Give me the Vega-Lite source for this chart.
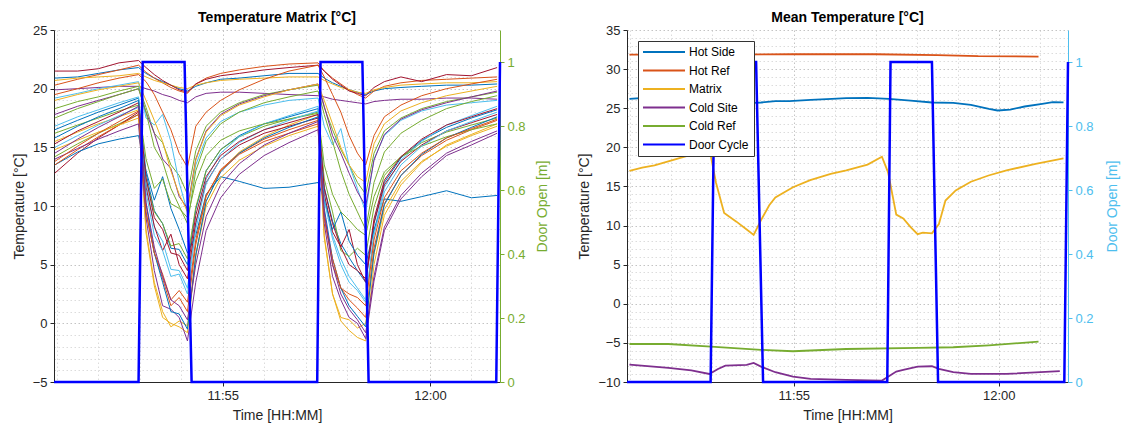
{
"$schema": "https://vega.github.io/schema/vega-lite/v6.json",
"background": "white",
"padding": {"left": 12, "top": 11, "right": 2, "bottom": 5},
"spacing": 27,
"config": {
 "font": "Liberation Sans",
 "view": {"stroke": null},
 "axis": {"labelFontSize": 13, "titleFontSize": 14, "titleFontWeight": "normal", "labelColor": "#262626", "titleColor": "#262626", "domainColor": "#262626", "tickColor": "#262626", "tickSize": 4, "labelPadding": 3, "gridDash": [1.5, 2.5], "gridWidth": 1},
 "title": {"fontSize": 14, "fontWeight": "bold", "color": "#000000", "offset": -1}
},
"resolve": {"scale": {"color": "independent", "x": "independent", "y": "independent"}},
"datasets": {
 "door": [
  {"t":50.93,"d":0,"k":"Door Cycle"},{"t":52.97,"d":0,"k":"Door Cycle"},{"t":53.07,"d":1,"k":"Door Cycle"},{"t":54.08,"d":1,"k":"Door Cycle"},{"t":54.25,"d":0,"k":"Door Cycle"},{"t":57.28,"d":0,"k":"Door Cycle"},{"t":57.36,"d":1,"k":"Door Cycle"},{"t":58.37,"d":1,"k":"Door Cycle"},{"t":58.52,"d":0,"k":"Door Cycle"},{"t":61.6,"d":0,"k":"Door Cycle"},{"t":61.69,"d":1,"k":"Door Cycle"}
 ],
 "mean": [
  {"k":"Hot Side","t":50.99,"v":26.2},{"k":"Hot Side","t":51.59,"v":26.4},{"k":"Hot Side","t":52.2,"v":26.15},{"k":"Hot Side","t":52.98,"v":25.85},{"k":"Hot Side","t":54.02,"v":25.69},{"k":"Hot Side","t":54.2,"v":25.73},{"k":"Hot Side","t":54.55,"v":25.9},{"k":"Hot Side","t":54.89,"v":25.9},{"k":"Hot Side","t":55.41,"v":26.07},{"k":"Hot Side","t":55.93,"v":26.2},{"k":"Hot Side","t":56.28,"v":26.28},{"k":"Hot Side","t":56.8,"v":26.33},{"k":"Hot Side","t":57.32,"v":26.2},{"k":"Hot Side","t":57.85,"v":25.98},{"k":"Hot Side","t":58.37,"v":25.73},{"k":"Hot Side","t":58.89,"v":25.69},{"k":"Hot Side","t":59.32,"v":25.43},{"k":"Hot Side","t":59.76,"v":24.92},{"k":"Hot Side","t":59.97,"v":24.71},{"k":"Hot Side","t":60.28,"v":24.83},{"k":"Hot Side","t":60.63,"v":25.22},{"k":"Hot Side","t":61.06,"v":25.56},{"k":"Hot Side","t":61.32,"v":25.77},{"k":"Hot Side","t":61.58,"v":25.75},
  {"k":"Hot Ref","t":50.99,"v":31.85},{"k":"Hot Ref","t":53.0,"v":31.85},{"k":"Hot Ref","t":55.0,"v":31.9},{"k":"Hot Ref","t":57.0,"v":31.9},{"k":"Hot Ref","t":58.5,"v":31.8},{"k":"Hot Ref","t":59.5,"v":31.65},{"k":"Hot Ref","t":60.97,"v":31.6},
  {"k":"Matrix","t":50.99,"v":17.0},{"k":"Matrix","t":51.3,"v":17.4},{"k":"Matrix","t":51.6,"v":17.7},{"k":"Matrix","t":52.0,"v":18.3},{"k":"Matrix","t":52.4,"v":18.9},{"k":"Matrix","t":52.75,"v":19.3},{"k":"Matrix","t":52.95,"v":19.6},{"k":"Matrix","t":53.1,"v":15.5},{"k":"Matrix","t":53.3,"v":11.6},{"k":"Matrix","t":53.6,"v":10.5},{"k":"Matrix","t":53.85,"v":9.5},{"k":"Matrix","t":54.02,"v":8.8},{"k":"Matrix","t":54.2,"v":10.7},{"k":"Matrix","t":54.4,"v":12.6},{"k":"Matrix","t":54.55,"v":13.6},{"k":"Matrix","t":54.98,"v":14.9},{"k":"Matrix","t":55.4,"v":15.8},{"k":"Matrix","t":55.9,"v":16.6},{"k":"Matrix","t":56.28,"v":17.05},{"k":"Matrix","t":56.8,"v":17.8},{"k":"Matrix","t":57.15,"v":18.8},{"k":"Matrix","t":57.3,"v":16.8},{"k":"Matrix","t":57.5,"v":11.4},{"k":"Matrix","t":57.67,"v":10.9},{"k":"Matrix","t":57.85,"v":9.8},{"k":"Matrix","t":58.02,"v":8.9},{"k":"Matrix","t":58.15,"v":9.1},{"k":"Matrix","t":58.37,"v":9.0},{"k":"Matrix","t":58.54,"v":10.2},{"k":"Matrix","t":58.7,"v":13.2},{"k":"Matrix","t":58.95,"v":14.5},{"k":"Matrix","t":59.32,"v":15.6},{"k":"Matrix","t":59.75,"v":16.4},{"k":"Matrix","t":60.19,"v":17.05},{"k":"Matrix","t":60.9,"v":17.9},{"k":"Matrix","t":61.58,"v":18.6},
  {"k":"Cold Site","t":50.99,"v":-7.78},{"k":"Cold Site","t":51.94,"v":-8.2},{"k":"Cold Site","t":52.5,"v":-8.5},{"k":"Cold Site","t":52.94,"v":-8.97},{"k":"Cold Site","t":53.15,"v":-8.33},{"k":"Cold Site","t":53.33,"v":-7.9},{"k":"Cold Site","t":53.85,"v":-7.82},{"k":"Cold Site","t":54.02,"v":-7.56},{"k":"Cold Site","t":54.2,"v":-8.03},{"k":"Cold Site","t":54.55,"v":-8.75},{"k":"Cold Site","t":54.98,"v":-9.3},{"k":"Cold Site","t":55.41,"v":-9.6},{"k":"Cold Site","t":56.28,"v":-9.73},{"k":"Cold Site","t":57.15,"v":-9.82},{"k":"Cold Site","t":57.28,"v":-9.39},{"k":"Cold Site","t":57.5,"v":-8.67},{"k":"Cold Site","t":57.67,"v":-8.46},{"k":"Cold Site","t":58.02,"v":-8.03},{"k":"Cold Site","t":58.37,"v":-7.99},{"k":"Cold Site","t":58.54,"v":-8.33},{"k":"Cold Site","t":58.89,"v":-8.75},{"k":"Cold Site","t":59.32,"v":-8.97},{"k":"Cold Site","t":60.19,"v":-8.97},{"k":"Cold Site","t":61.49,"v":-8.62},
  {"k":"Cold Ref","t":50.99,"v":-5.14},{"k":"Cold Ref","t":51.94,"v":-5.14},{"k":"Cold Ref","t":52.98,"v":-5.48},{"k":"Cold Ref","t":54.2,"v":-5.9},{"k":"Cold Ref","t":54.98,"v":-6.07},{"k":"Cold Ref","t":56.28,"v":-5.78},{"k":"Cold Ref","t":58.02,"v":-5.65},{"k":"Cold Ref","t":58.89,"v":-5.56},{"k":"Cold Ref","t":59.76,"v":-5.31},{"k":"Cold Ref","t":60.97,"v":-4.85}
 ],
 "matrix": [
{"s":1,"t":50.95,"v":20.9},{"s":1,"t":51.5,"v":21.0},{"s":1,"t":52,"v":21.3},{"s":1,"t":52.5,"v":21.6},{"s":1,"t":52.97,"v":21.8},{"s":1,"t":53.15,"v":21.3},{"s":1,"t":53.35,"v":20.9},{"s":1,"t":53.55,"v":20.6},{"s":1,"t":53.75,"v":20.3},{"s":1,"t":53.95,"v":20.0},{"s":1,"t":54.15,"v":19.8},{"s":1,"t":54.35,"v":20.2},{"s":1,"t":54.6,"v":20.5},{"s":1,"t":54.95,"v":20.8},{"s":1,"t":55.4,"v":20.9},{"s":1,"t":56,"v":21.1},{"s":1,"t":56.6,"v":21.3},{"s":1,"t":57.3,"v":21.3},{"s":1,"t":57.45,"v":20.9},{"s":1,"t":57.65,"v":20.5},{"s":1,"t":57.85,"v":20.2},{"s":1,"t":58.05,"v":19.9},{"s":1,"t":58.25,"v":19.7},{"s":1,"t":58.45,"v":19.5},{"s":1,"t":58.65,"v":19.8},{"s":1,"t":58.9,"v":20.0},{"s":1,"t":59.3,"v":20.1},{"s":1,"t":59.8,"v":20.2},{"s":1,"t":60.4,"v":20.3},{"s":1,"t":61,"v":20.3},{"s":1,"t":61.62,"v":20.4},
{"s":2,"t":50.95,"v":20.3},{"s":2,"t":51.5,"v":20.8},{"s":2,"t":52,"v":21.2},{"s":2,"t":52.5,"v":21.6},{"s":2,"t":52.97,"v":22.0},{"s":2,"t":53.15,"v":21.4},{"s":2,"t":53.35,"v":20.9},{"s":2,"t":53.55,"v":20.5},{"s":2,"t":53.75,"v":20.1},{"s":2,"t":53.95,"v":19.8},{"s":2,"t":54.15,"v":19.6},{"s":2,"t":54.35,"v":20.4},{"s":2,"t":54.6,"v":20.9},{"s":2,"t":54.95,"v":21.3},{"s":2,"t":55.4,"v":21.6},{"s":2,"t":56,"v":21.9},{"s":2,"t":56.6,"v":22.1},{"s":2,"t":57.3,"v":22.2},{"s":2,"t":57.45,"v":21.5},{"s":2,"t":57.65,"v":20.9},{"s":2,"t":57.85,"v":20.4},{"s":2,"t":58.05,"v":19.9},{"s":2,"t":58.25,"v":19.5},{"s":2,"t":58.45,"v":19.2},{"s":2,"t":58.65,"v":19.8},{"s":2,"t":58.9,"v":20.2},{"s":2,"t":59.3,"v":20.5},{"s":2,"t":59.8,"v":20.7},{"s":2,"t":60.4,"v":20.8},{"s":2,"t":61,"v":20.9},{"s":2,"t":61.62,"v":21.0},
{"s":3,"t":50.95,"v":20.7},{"s":3,"t":51.5,"v":20.9},{"s":3,"t":52,"v":21.0},{"s":3,"t":52.5,"v":21.1},{"s":3,"t":52.97,"v":21.3},{"s":3,"t":53.15,"v":21.0},{"s":3,"t":53.35,"v":20.7},{"s":3,"t":53.55,"v":20.5},{"s":3,"t":53.75,"v":20.3},{"s":3,"t":53.95,"v":20.1},{"s":3,"t":54.15,"v":20.0},{"s":3,"t":54.35,"v":20.3},{"s":3,"t":54.6,"v":20.5},{"s":3,"t":54.95,"v":20.7},{"s":3,"t":55.4,"v":20.8},{"s":3,"t":56,"v":20.9},{"s":3,"t":56.6,"v":21.0},{"s":3,"t":57.3,"v":21.0},{"s":3,"t":57.45,"v":20.7},{"s":3,"t":57.65,"v":20.4},{"s":3,"t":57.85,"v":20.1},{"s":3,"t":58.05,"v":19.9},{"s":3,"t":58.25,"v":19.7},{"s":3,"t":58.45,"v":19.6},{"s":3,"t":58.65,"v":19.9},{"s":3,"t":58.9,"v":20.1},{"s":3,"t":59.3,"v":20.3},{"s":3,"t":59.8,"v":20.4},{"s":3,"t":60.4,"v":20.5},{"s":3,"t":61,"v":20.5},{"s":3,"t":61.62,"v":20.6},
{"s":4,"t":50.95,"v":19.9},{"s":4,"t":51.5,"v":20.0},{"s":4,"t":52,"v":20.1},{"s":4,"t":52.5,"v":20.2},{"s":4,"t":52.97,"v":20.2},{"s":4,"t":53.15,"v":20.0},{"s":4,"t":53.35,"v":19.8},{"s":4,"t":53.55,"v":19.5},{"s":4,"t":53.75,"v":19.3},{"s":4,"t":53.95,"v":19.0},{"s":4,"t":54.15,"v":18.8},{"s":4,"t":54.35,"v":19.3},{"s":4,"t":54.6,"v":19.6},{"s":4,"t":54.95,"v":19.7},{"s":4,"t":55.4,"v":19.7},{"s":4,"t":56,"v":19.6},{"s":4,"t":56.6,"v":19.5},{"s":4,"t":57.3,"v":19.4},{"s":4,"t":57.45,"v":19.3},{"s":4,"t":57.65,"v":19.1},{"s":4,"t":57.85,"v":19.0},{"s":4,"t":58.05,"v":18.9},{"s":4,"t":58.25,"v":18.8},{"s":4,"t":58.45,"v":18.7},{"s":4,"t":58.65,"v":18.9},{"s":4,"t":58.9,"v":19.0},{"s":4,"t":59.3,"v":19.1},{"s":4,"t":59.8,"v":19.1},{"s":4,"t":60.4,"v":19.2},{"s":4,"t":61,"v":19.2},{"s":4,"t":61.62,"v":19.1},
{"s":5,"t":50.95,"v":18.3},{"s":5,"t":51.5,"v":18.9},{"s":5,"t":52,"v":19.3},{"s":5,"t":52.5,"v":19.8},{"s":5,"t":52.97,"v":20.2},{"s":5,"t":53.15,"v":18.4},{"s":5,"t":53.35,"v":16.2},{"s":5,"t":53.55,"v":15.4},{"s":5,"t":53.75,"v":13.5},{"s":5,"t":53.95,"v":12.6},{"s":5,"t":54.15,"v":11.0},{"s":5,"t":54.35,"v":14.7},{"s":5,"t":54.6,"v":16.8},{"s":5,"t":54.95,"v":18.0},{"s":5,"t":55.4,"v":18.8},{"s":5,"t":56,"v":19.5},{"s":5,"t":56.6,"v":19.9},{"s":5,"t":57.3,"v":20.3},{"s":5,"t":57.45,"v":18.4},{"s":5,"t":57.65,"v":16.5},{"s":5,"t":57.85,"v":14.8},{"s":5,"t":58.05,"v":13.5},{"s":5,"t":58.25,"v":12.0},{"s":5,"t":58.45,"v":11.0},{"s":5,"t":58.65,"v":14.5},{"s":5,"t":58.9,"v":16.4},{"s":5,"t":59.3,"v":17.5},{"s":5,"t":59.8,"v":18.3},{"s":5,"t":60.4,"v":18.9},{"s":5,"t":61,"v":19.3},{"s":5,"t":61.62,"v":19.7},
{"s":6,"t":50.95,"v":19.2},{"s":6,"t":51.5,"v":19.6},{"s":6,"t":52,"v":20.0},{"s":6,"t":52.5,"v":20.3},{"s":6,"t":52.97,"v":20.6},{"s":6,"t":53.15,"v":17.5},{"s":6,"t":53.35,"v":16.9},{"s":6,"t":53.55,"v":17.8},{"s":6,"t":53.75,"v":15.5},{"s":6,"t":53.95,"v":12.0},{"s":6,"t":54.15,"v":9.5},{"s":6,"t":54.35,"v":13.5},{"s":6,"t":54.6,"v":15.8},{"s":6,"t":54.95,"v":17.2},{"s":6,"t":55.4,"v":18.0},{"s":6,"t":56,"v":18.6},{"s":6,"t":56.6,"v":19.0},{"s":6,"t":57.3,"v":19.2},{"s":6,"t":57.45,"v":16.8},{"s":6,"t":57.65,"v":15.2},{"s":6,"t":57.85,"v":16.6},{"s":6,"t":58.05,"v":13.5},{"s":6,"t":58.25,"v":11.5},{"s":6,"t":58.45,"v":9.5},{"s":6,"t":58.65,"v":14.0},{"s":6,"t":58.9,"v":16.0},{"s":6,"t":59.3,"v":17.3},{"s":6,"t":59.8,"v":18.1},{"s":6,"t":60.4,"v":18.6},{"s":6,"t":61,"v":18.8},{"s":6,"t":61.62,"v":19.0},
{"s":7,"t":50.95,"v":21.5},{"s":7,"t":51.5,"v":21.5},{"s":7,"t":52,"v":21.7},{"s":7,"t":52.5,"v":22.2},{"s":7,"t":52.97,"v":22.4},{"s":7,"t":53.15,"v":21.8},{"s":7,"t":53.35,"v":21.2},{"s":7,"t":53.55,"v":20.7},{"s":7,"t":53.75,"v":20.3},{"s":7,"t":53.95,"v":19.9},{"s":7,"t":54.15,"v":19.7},{"s":7,"t":54.35,"v":20.4},{"s":7,"t":54.6,"v":20.8},{"s":7,"t":54.95,"v":21.1},{"s":7,"t":55.4,"v":21.3},{"s":7,"t":56,"v":21.6},{"s":7,"t":56.6,"v":21.8},{"s":7,"t":57.3,"v":22.0},{"s":7,"t":57.45,"v":21.5},{"s":7,"t":57.65,"v":20.8},{"s":7,"t":57.85,"v":20.3},{"s":7,"t":58.05,"v":19.8},{"s":7,"t":58.25,"v":19.6},{"s":7,"t":58.45,"v":19.4},{"s":7,"t":58.65,"v":20.1},{"s":7,"t":58.9,"v":20.6},{"s":7,"t":59.3,"v":21.0},{"s":7,"t":59.8,"v":20.6},{"s":7,"t":60.4,"v":21.2},{"s":7,"t":61,"v":21.1},{"s":7,"t":61.62,"v":21.8},
{"s":8,"t":50.95,"v":16.5},{"s":8,"t":51.5,"v":17.3},{"s":8,"t":52,"v":18.0},{"s":8,"t":52.5,"v":18.6},{"s":8,"t":52.97,"v":19.2},{"s":8,"t":53.15,"v":12.8},{"s":8,"t":53.35,"v":9.6},{"s":8,"t":53.55,"v":8.5},{"s":8,"t":53.75,"v":6.4},{"s":8,"t":53.95,"v":6.3},{"s":8,"t":54.15,"v":5.0},{"s":8,"t":54.35,"v":9.7},{"s":8,"t":54.6,"v":13.0},{"s":8,"t":54.95,"v":14.8},{"s":8,"t":55.4,"v":16.0},{"s":8,"t":56,"v":17.0},{"s":8,"t":56.6,"v":17.6},{"s":8,"t":57.3,"v":18.3},{"s":8,"t":57.45,"v":11.6},{"s":8,"t":57.65,"v":8.7},{"s":8,"t":57.85,"v":6.8},{"s":8,"t":58.05,"v":5.6},{"s":8,"t":58.25,"v":4.5},{"s":8,"t":58.45,"v":3.5},{"s":8,"t":58.65,"v":8.6},{"s":8,"t":58.9,"v":12.0},{"s":8,"t":59.3,"v":14.1},{"s":8,"t":59.8,"v":15.6},{"s":8,"t":60.4,"v":16.7},{"s":8,"t":61,"v":17.5},{"s":8,"t":61.62,"v":18.2},
{"s":9,"t":50.95,"v":19.5},{"s":9,"t":51.5,"v":20.0},{"s":9,"t":52,"v":20.5},{"s":9,"t":52.5,"v":20.9},{"s":9,"t":52.97,"v":21.2},{"s":9,"t":53.15,"v":20.6},{"s":9,"t":53.35,"v":19.5},{"s":9,"t":53.55,"v":18.0},{"s":9,"t":53.75,"v":16.5},{"s":9,"t":53.95,"v":14.5},{"s":9,"t":54.15,"v":13.3},{"s":9,"t":54.35,"v":16.8},{"s":9,"t":54.6,"v":18.0},{"s":9,"t":54.95,"v":19.0},{"s":9,"t":55.4,"v":19.9},{"s":9,"t":56,"v":20.8},{"s":9,"t":56.6,"v":21.5},{"s":9,"t":57.3,"v":22.0},{"s":9,"t":57.45,"v":21.0},{"s":9,"t":57.65,"v":19.5},{"s":9,"t":57.85,"v":18.0},{"s":9,"t":58.05,"v":16.0},{"s":9,"t":58.25,"v":14.5},{"s":9,"t":58.45,"v":13.5},{"s":9,"t":58.65,"v":16.0},{"s":9,"t":58.9,"v":17.6},{"s":9,"t":59.3,"v":18.6},{"s":9,"t":59.8,"v":19.4},{"s":9,"t":60.4,"v":20.0},{"s":9,"t":61,"v":20.4},{"s":9,"t":61.62,"v":20.8},
{"s":10,"t":50.95,"v":15.5},{"s":10,"t":51.5,"v":16.3},{"s":10,"t":52,"v":17.0},{"s":10,"t":52.5,"v":17.6},{"s":10,"t":52.97,"v":18.2},{"s":10,"t":53.15,"v":7.7},{"s":10,"t":53.35,"v":3.2},{"s":10,"t":53.55,"v":0.5},{"s":10,"t":53.75,"v":0.0},{"s":10,"t":53.95,"v":-0.3},{"s":10,"t":54.15,"v":-0.8},{"s":10,"t":54.35,"v":5.7},{"s":10,"t":54.6,"v":10.4},{"s":10,"t":54.95,"v":13.0},{"s":10,"t":55.4,"v":14.6},{"s":10,"t":56,"v":15.9},{"s":10,"t":56.6,"v":16.9},{"s":10,"t":57.3,"v":17.8},{"s":10,"t":57.45,"v":7.3},{"s":10,"t":57.65,"v":2.5},{"s":10,"t":57.85,"v":0.2},{"s":10,"t":58.05,"v":-0.6},{"s":10,"t":58.25,"v":-1.2},{"s":10,"t":58.45,"v":-1.5},{"s":10,"t":58.65,"v":5.0},{"s":10,"t":58.9,"v":9.2},{"s":10,"t":59.3,"v":11.8},{"s":10,"t":59.8,"v":13.7},{"s":10,"t":60.4,"v":15.2},{"s":10,"t":61,"v":16.1},{"s":10,"t":61.62,"v":17.0},
{"s":11,"t":50.95,"v":17.8},{"s":11,"t":51.5,"v":18.5},{"s":11,"t":52,"v":19.0},{"s":11,"t":52.5,"v":19.5},{"s":11,"t":52.97,"v":20.0},{"s":11,"t":53.15,"v":18.0},{"s":11,"t":53.35,"v":16.2},{"s":11,"t":53.55,"v":14.0},{"s":11,"t":53.75,"v":13.2},{"s":11,"t":53.95,"v":10.8},{"s":11,"t":54.15,"v":9.8},{"s":11,"t":54.35,"v":14.0},{"s":11,"t":54.6,"v":16.4},{"s":11,"t":54.95,"v":17.8},{"s":11,"t":55.4,"v":18.7},{"s":11,"t":56,"v":19.4},{"s":11,"t":56.6,"v":19.9},{"s":11,"t":57.3,"v":20.4},{"s":11,"t":57.45,"v":18.5},{"s":11,"t":57.65,"v":16.0},{"s":11,"t":57.85,"v":14.5},{"s":11,"t":58.05,"v":12.8},{"s":11,"t":58.25,"v":11.2},{"s":11,"t":58.45,"v":10.0},{"s":11,"t":58.65,"v":13.9},{"s":11,"t":58.9,"v":16.1},{"s":11,"t":59.3,"v":17.4},{"s":11,"t":59.8,"v":18.2},{"s":11,"t":60.4,"v":18.8},{"s":11,"t":61,"v":19.3},{"s":11,"t":61.62,"v":19.8},
{"s":12,"t":50.95,"v":14.2},{"s":12,"t":51.5,"v":15.3},{"s":12,"t":52,"v":16.2},{"s":12,"t":52.5,"v":17.0},{"s":12,"t":52.97,"v":17.8},{"s":12,"t":53.15,"v":12.3},{"s":12,"t":53.35,"v":9.5},{"s":12,"t":53.55,"v":8.5},{"s":12,"t":53.75,"v":6.6},{"s":12,"t":53.95,"v":6.8},{"s":12,"t":54.15,"v":5.5},{"s":12,"t":54.35,"v":9.9},{"s":12,"t":54.6,"v":13.0},{"s":12,"t":54.95,"v":14.8},{"s":12,"t":55.4,"v":15.9},{"s":12,"t":56,"v":16.8},{"s":12,"t":56.6,"v":17.4},{"s":12,"t":57.3,"v":18.0},{"s":12,"t":57.45,"v":12.3},{"s":12,"t":57.65,"v":9.5},{"s":12,"t":57.85,"v":6.2},{"s":12,"t":58.05,"v":5.7},{"s":12,"t":58.25,"v":6.4},{"s":12,"t":58.45,"v":5.8},{"s":12,"t":58.65,"v":9.9},{"s":12,"t":58.9,"v":12.6},{"s":12,"t":59.3,"v":14.2},{"s":12,"t":59.8,"v":15.4},{"s":12,"t":60.4,"v":16.3},{"s":12,"t":61,"v":16.9},{"s":12,"t":61.62,"v":17.5},
{"s":13,"t":50.95,"v":16.8},{"s":13,"t":51.5,"v":17.6},{"s":13,"t":52,"v":18.2},{"s":13,"t":52.5,"v":18.8},{"s":13,"t":52.97,"v":19.3},{"s":13,"t":53.15,"v":12.0},{"s":13,"t":53.35,"v":8.2},{"s":13,"t":53.55,"v":7.0},{"s":13,"t":53.75,"v":4.6},{"s":13,"t":53.95,"v":4.5},{"s":13,"t":54.15,"v":3.0},{"s":13,"t":54.35,"v":8.4},{"s":13,"t":54.6,"v":12.3},{"s":13,"t":54.95,"v":14.5},{"s":13,"t":55.4,"v":15.9},{"s":13,"t":56,"v":17.0},{"s":13,"t":56.6,"v":17.7},{"s":13,"t":57.3,"v":18.5},{"s":13,"t":57.45,"v":11.0},{"s":13,"t":57.65,"v":7.5},{"s":13,"t":57.85,"v":5.5},{"s":13,"t":58.05,"v":4.0},{"s":13,"t":58.25,"v":3.0},{"s":13,"t":58.45,"v":2.0},{"s":13,"t":58.65,"v":7.8},{"s":13,"t":58.9,"v":11.6},{"s":13,"t":59.3,"v":13.9},{"s":13,"t":59.8,"v":15.5},{"s":13,"t":60.4,"v":16.9},{"s":13,"t":61,"v":17.7},{"s":13,"t":61.62,"v":18.5},
{"s":14,"t":50.95,"v":12.8},{"s":14,"t":51.5,"v":14.5},{"s":14,"t":52,"v":15.8},{"s":14,"t":52.5,"v":16.9},{"s":14,"t":52.97,"v":18.0},{"s":14,"t":53.15,"v":11.6},{"s":14,"t":53.35,"v":8.3},{"s":14,"t":53.55,"v":6.2},{"s":14,"t":53.75,"v":7.6},{"s":14,"t":53.95,"v":5.0},{"s":14,"t":54.15,"v":3.8},{"s":14,"t":54.35,"v":8.6},{"s":14,"t":54.6,"v":12.0},{"s":14,"t":54.95,"v":14.0},{"s":14,"t":55.4,"v":15.2},{"s":14,"t":56,"v":16.2},{"s":14,"t":56.6,"v":16.8},{"s":14,"t":57.3,"v":17.5},{"s":14,"t":57.45,"v":11.0},{"s":14,"t":57.65,"v":7.8},{"s":14,"t":57.85,"v":6.5},{"s":14,"t":58.05,"v":8.0},{"s":14,"t":58.25,"v":5.0},{"s":14,"t":58.45,"v":3.5},{"s":14,"t":58.65,"v":8.5},{"s":14,"t":58.9,"v":11.8},{"s":14,"t":59.3,"v":13.8},{"s":14,"t":59.8,"v":15.2},{"s":14,"t":60.4,"v":16.4},{"s":14,"t":61,"v":17.1},{"s":14,"t":61.62,"v":17.8},
{"s":15,"t":50.95,"v":13.5},{"s":15,"t":51.5,"v":14.6},{"s":15,"t":52,"v":15.3},{"s":15,"t":52.5,"v":15.7},{"s":15,"t":52.97,"v":16.0},{"s":15,"t":53.15,"v":13.0},{"s":15,"t":53.35,"v":10.5},{"s":15,"t":53.55,"v":12.5},{"s":15,"t":53.75,"v":9.8},{"s":15,"t":53.95,"v":8.0},{"s":15,"t":54.15,"v":6.0},{"s":15,"t":54.35,"v":7.5},{"s":15,"t":54.6,"v":11.0},{"s":15,"t":54.95,"v":12.5},{"s":15,"t":55.4,"v":12.1},{"s":15,"t":56,"v":11.5},{"s":15,"t":56.6,"v":11.6},{"s":15,"t":57.3,"v":12.0},{"s":15,"t":57.45,"v":10.5},{"s":15,"t":57.65,"v":8.0},{"s":15,"t":57.85,"v":9.5},{"s":15,"t":58.05,"v":7.0},{"s":15,"t":58.25,"v":5.8},{"s":15,"t":58.45,"v":5.0},{"s":15,"t":58.65,"v":8.0},{"s":15,"t":58.9,"v":10.6},{"s":15,"t":59.3,"v":10.4},{"s":15,"t":59.8,"v":10.8},{"s":15,"t":60.4,"v":11.3},{"s":15,"t":61,"v":10.7},{"s":15,"t":61.62,"v":10.9},
{"s":16,"t":50.95,"v":13.5},{"s":16,"t":51.5,"v":14.8},{"s":16,"t":52,"v":15.9},{"s":16,"t":52.5,"v":16.9},{"s":16,"t":52.97,"v":17.8},{"s":16,"t":53.15,"v":9.4},{"s":16,"t":53.35,"v":6.0},{"s":16,"t":53.55,"v":3.8},{"s":16,"t":53.75,"v":1.5},{"s":16,"t":53.95,"v":2.2},{"s":16,"t":54.15,"v":1.0},{"s":16,"t":54.35,"v":6.7},{"s":16,"t":54.6,"v":10.8},{"s":16,"t":54.95,"v":13.1},{"s":16,"t":55.4,"v":14.5},{"s":16,"t":56,"v":15.7},{"s":16,"t":56.6,"v":16.5},{"s":16,"t":57.3,"v":17.3},{"s":16,"t":57.45,"v":9.0},{"s":16,"t":57.65,"v":5.0},{"s":16,"t":57.85,"v":3.0},{"s":16,"t":58.05,"v":2.0},{"s":16,"t":58.25,"v":1.3},{"s":16,"t":58.45,"v":0.5},{"s":16,"t":58.65,"v":6.4},{"s":16,"t":58.9,"v":10.2},{"s":16,"t":59.3,"v":12.6},{"s":16,"t":59.8,"v":14.3},{"s":16,"t":60.4,"v":15.6},{"s":16,"t":61,"v":16.5},{"s":16,"t":61.62,"v":17.3},
{"s":17,"t":50.95,"v":14.8},{"s":17,"t":51.5,"v":15.6},{"s":17,"t":52,"v":16.3},{"s":17,"t":52.5,"v":16.9},{"s":17,"t":52.97,"v":17.5},{"s":17,"t":53.15,"v":8.0},{"s":17,"t":53.35,"v":3.5},{"s":17,"t":53.55,"v":1.0},{"s":17,"t":53.75,"v":-0.3},{"s":17,"t":53.95,"v":0.2},{"s":17,"t":54.15,"v":-0.2},{"s":17,"t":54.35,"v":5.8},{"s":17,"t":54.6,"v":10.0},{"s":17,"t":54.95,"v":12.4},{"s":17,"t":55.4,"v":13.9},{"s":17,"t":56,"v":15.1},{"s":17,"t":56.6,"v":16.0},{"s":17,"t":57.3,"v":16.8},{"s":17,"t":57.45,"v":7.5},{"s":17,"t":57.65,"v":2.5},{"s":17,"t":57.85,"v":0.5},{"s":17,"t":58.05,"v":0.3},{"s":17,"t":58.25,"v":-0.4},{"s":17,"t":58.45,"v":0.0},{"s":17,"t":58.65,"v":5.9},{"s":17,"t":58.9,"v":9.7},{"s":17,"t":59.3,"v":12.1},{"s":17,"t":59.8,"v":13.8},{"s":17,"t":60.4,"v":15.1},{"s":17,"t":61,"v":16.0},{"s":17,"t":61.62,"v":16.8},
{"s":18,"t":50.95,"v":14.0},{"s":18,"t":51.5,"v":14.9},{"s":18,"t":52,"v":15.7},{"s":18,"t":52.5,"v":16.4},{"s":18,"t":52.97,"v":17.0},{"s":18,"t":53.15,"v":9.0},{"s":18,"t":53.35,"v":4.5},{"s":18,"t":53.55,"v":1.5},{"s":18,"t":53.75,"v":1.2},{"s":18,"t":53.95,"v":0.5},{"s":18,"t":54.15,"v":-1.5},{"s":18,"t":54.35,"v":3.5},{"s":18,"t":54.6,"v":7.9},{"s":18,"t":54.95,"v":10.7},{"s":18,"t":55.4,"v":12.7},{"s":18,"t":56,"v":14.3},{"s":18,"t":56.6,"v":15.4},{"s":18,"t":57.3,"v":16.5},{"s":18,"t":57.45,"v":8.5},{"s":18,"t":57.65,"v":4.0},{"s":18,"t":57.85,"v":2.0},{"s":18,"t":58.05,"v":0.5},{"s":18,"t":58.25,"v":0.0},{"s":18,"t":58.45,"v":-1.3},{"s":18,"t":58.65,"v":3.6},{"s":18,"t":58.9,"v":7.9},{"s":18,"t":59.3,"v":10.6},{"s":18,"t":59.8,"v":12.5},{"s":18,"t":60.4,"v":14.3},{"s":18,"t":61,"v":15.2},{"s":18,"t":61.62,"v":16.2},
{"s":19,"t":50.95,"v":16.2},{"s":19,"t":51.5,"v":16.9},{"s":19,"t":52,"v":17.5},{"s":19,"t":52.5,"v":18.1},{"s":19,"t":52.97,"v":18.6},{"s":19,"t":53.15,"v":14.0},{"s":19,"t":53.35,"v":11.5},{"s":19,"t":53.55,"v":12.3},{"s":19,"t":53.75,"v":10.2},{"s":19,"t":53.95,"v":9.8},{"s":19,"t":54.15,"v":9.0},{"s":19,"t":54.35,"v":12.1},{"s":19,"t":54.6,"v":14.3},{"s":19,"t":54.95,"v":15.6},{"s":19,"t":55.4,"v":16.4},{"s":19,"t":56,"v":17.0},{"s":19,"t":56.6,"v":17.4},{"s":19,"t":57.3,"v":17.9},{"s":19,"t":57.45,"v":13.5},{"s":19,"t":57.65,"v":11.0},{"s":19,"t":57.85,"v":9.5},{"s":19,"t":58.05,"v":8.8},{"s":19,"t":58.25,"v":8.0},{"s":19,"t":58.45,"v":7.5},{"s":19,"t":58.65,"v":10.8},{"s":19,"t":58.9,"v":12.9},{"s":19,"t":59.3,"v":14.2},{"s":19,"t":59.8,"v":15.1},{"s":19,"t":60.4,"v":15.9},{"s":19,"t":61,"v":16.5},{"s":19,"t":61.62,"v":17.0},
{"s":20,"t":50.95,"v":15.0},{"s":20,"t":51.5,"v":16.0},{"s":20,"t":52,"v":16.9},{"s":20,"t":52.5,"v":17.7},{"s":20,"t":52.97,"v":18.4},{"s":20,"t":53.15,"v":11.2},{"s":20,"t":53.35,"v":7.5},{"s":20,"t":53.55,"v":6.2},{"s":20,"t":53.75,"v":4.0},{"s":20,"t":53.95,"v":4.2},{"s":20,"t":54.15,"v":2.5},{"s":20,"t":54.35,"v":8.0},{"s":20,"t":54.6,"v":11.9},{"s":20,"t":54.95,"v":14.0},{"s":20,"t":55.4,"v":15.4},{"s":20,"t":56,"v":16.5},{"s":20,"t":56.6,"v":17.3},{"s":20,"t":57.3,"v":18.1},{"s":20,"t":57.45,"v":10.5},{"s":20,"t":57.65,"v":7.2},{"s":20,"t":57.85,"v":5.0},{"s":20,"t":58.05,"v":3.5},{"s":20,"t":58.25,"v":2.8},{"s":20,"t":58.45,"v":1.8},{"s":20,"t":58.65,"v":7.5},{"s":20,"t":58.9,"v":11.2},{"s":20,"t":59.3,"v":13.5},{"s":20,"t":59.8,"v":15.1},{"s":20,"t":60.4,"v":16.4},{"s":20,"t":61,"v":17.2},{"s":20,"t":61.62,"v":18.0},
{"s":21,"t":50.95,"v":15.3},{"s":21,"t":51.5,"v":16.4},{"s":21,"t":52,"v":17.2},{"s":21,"t":52.5,"v":18.0},{"s":21,"t":52.97,"v":18.8},{"s":21,"t":53.15,"v":12.4},{"s":21,"t":53.35,"v":9.0},{"s":21,"t":53.55,"v":8.0},{"s":21,"t":53.75,"v":6.0},{"s":21,"t":53.95,"v":5.8},{"s":21,"t":54.15,"v":4.5},{"s":21,"t":54.35,"v":9.2},{"s":21,"t":54.6,"v":12.5},{"s":21,"t":54.95,"v":14.3},{"s":21,"t":55.4,"v":15.5},{"s":21,"t":56,"v":16.5},{"s":21,"t":56.6,"v":17.1},{"s":21,"t":57.3,"v":17.8},{"s":21,"t":57.45,"v":11.5},{"s":21,"t":57.65,"v":8.5},{"s":21,"t":57.85,"v":6.5},{"s":21,"t":58.05,"v":5.0},{"s":21,"t":58.25,"v":4.5},{"s":21,"t":58.45,"v":3.8},{"s":21,"t":58.65,"v":8.9},{"s":21,"t":58.9,"v":12.2},{"s":21,"t":59.3,"v":14.2},{"s":21,"t":59.8,"v":15.7},{"s":21,"t":60.4,"v":16.9},{"s":21,"t":61,"v":17.6},{"s":21,"t":61.62,"v":18.3},
{"s":22,"t":50.95,"v":15.8},{"s":22,"t":51.5,"v":16.8},{"s":22,"t":52,"v":17.6},{"s":22,"t":52.5,"v":18.3},{"s":22,"t":52.97,"v":19.0},{"s":22,"t":53.15,"v":10.2},{"s":22,"t":53.35,"v":6.0},{"s":22,"t":53.55,"v":3.5},{"s":22,"t":53.75,"v":1.0},{"s":22,"t":53.95,"v":0.8},{"s":22,"t":54.15,"v":-0.5},{"s":22,"t":54.35,"v":5.8},{"s":22,"t":54.6,"v":10.4},{"s":22,"t":54.95,"v":12.9},{"s":22,"t":55.4,"v":14.5},{"s":22,"t":56,"v":15.8},{"s":22,"t":56.6,"v":16.7},{"s":22,"t":57.3,"v":17.6},{"s":22,"t":57.45,"v":9.8},{"s":22,"t":57.65,"v":5.5},{"s":22,"t":57.85,"v":3.0},{"s":22,"t":58.05,"v":1.5},{"s":22,"t":58.25,"v":0.6},{"s":22,"t":58.45,"v":-0.3},{"s":22,"t":58.65,"v":6.0},{"s":22,"t":58.9,"v":10.1},{"s":22,"t":59.3,"v":12.6},{"s":22,"t":59.8,"v":14.4},{"s":22,"t":60.4,"v":15.8},{"s":22,"t":61,"v":16.7},{"s":22,"t":61.62,"v":17.6},
{"s":23,"t":50.95,"v":13.8},{"s":23,"t":51.5,"v":15.1},{"s":23,"t":52,"v":16.2},{"s":23,"t":52.5,"v":17.2},{"s":23,"t":52.97,"v":18.1},{"s":23,"t":53.15,"v":9.5},{"s":23,"t":53.35,"v":6.0},{"s":23,"t":53.55,"v":4.2},{"s":23,"t":53.75,"v":2.0},{"s":23,"t":53.95,"v":2.8},{"s":23,"t":54.15,"v":1.8},{"s":23,"t":54.35,"v":7.1},{"s":23,"t":54.6,"v":10.9},{"s":23,"t":54.95,"v":13.0},{"s":23,"t":55.4,"v":14.4},{"s":23,"t":56,"v":15.5},{"s":23,"t":56.6,"v":16.2},{"s":23,"t":57.3,"v":17.0},{"s":23,"t":57.45,"v":9.0},{"s":23,"t":57.65,"v":5.5},{"s":23,"t":57.85,"v":3.0},{"s":23,"t":58.05,"v":2.5},{"s":23,"t":58.25,"v":2.2},{"s":23,"t":58.45,"v":1.5},{"s":23,"t":58.65,"v":7.1},{"s":23,"t":58.9,"v":10.7},{"s":23,"t":59.3,"v":13.0},{"s":23,"t":59.8,"v":14.5},{"s":23,"t":60.4,"v":15.8},{"s":23,"t":61,"v":16.6},{"s":23,"t":61.62,"v":17.4},
{"s":24,"t":50.95,"v":19.0},{"s":24,"t":51.5,"v":19.5},{"s":24,"t":52,"v":19.9},{"s":24,"t":52.5,"v":20.2},{"s":24,"t":52.97,"v":20.5},{"s":24,"t":53.15,"v":19.0},{"s":24,"t":53.35,"v":17.3},{"s":24,"t":53.55,"v":15.5},{"s":24,"t":53.75,"v":13.0},{"s":24,"t":53.95,"v":11.0},{"s":24,"t":54.15,"v":9.5},{"s":24,"t":54.35,"v":13.9},{"s":24,"t":54.6,"v":16.3},{"s":24,"t":54.95,"v":17.7},{"s":24,"t":55.4,"v":18.6},{"s":24,"t":56,"v":19.3},{"s":24,"t":56.6,"v":19.9},{"s":24,"t":57.3,"v":20.4},{"s":24,"t":57.45,"v":19.0},{"s":24,"t":57.65,"v":17.0},{"s":24,"t":57.85,"v":15.0},{"s":24,"t":58.05,"v":13.5},{"s":24,"t":58.25,"v":12.5},{"s":24,"t":58.45,"v":12.0},{"s":24,"t":58.65,"v":15.3},{"s":24,"t":58.9,"v":17.0},{"s":24,"t":59.3,"v":18.1},{"s":24,"t":59.8,"v":18.8},{"s":24,"t":60.4,"v":19.4},{"s":24,"t":61,"v":19.8},{"s":24,"t":61.62,"v":20.2},
{"s":25,"t":50.95,"v":14.5},{"s":25,"t":51.5,"v":15.7},{"s":25,"t":52,"v":16.7},{"s":25,"t":52.5,"v":17.6},{"s":25,"t":52.97,"v":18.5},{"s":25,"t":53.15,"v":10.3},{"s":25,"t":53.35,"v":6.5},{"s":25,"t":53.55,"v":4.0},{"s":25,"t":53.75,"v":2.0},{"s":25,"t":53.95,"v":1.5},{"s":25,"t":54.15,"v":0.3},{"s":25,"t":54.35,"v":5.0},{"s":25,"t":54.6,"v":9.1},{"s":25,"t":54.95,"v":11.8},{"s":25,"t":55.4,"v":13.6},{"s":25,"t":56,"v":15.2},{"s":25,"t":56.6,"v":16.2},{"s":25,"t":57.3,"v":17.2},{"s":25,"t":57.45,"v":9.5},{"s":25,"t":57.65,"v":5.0},{"s":25,"t":57.85,"v":2.5},{"s":25,"t":58.05,"v":1.2},{"s":25,"t":58.25,"v":0.3},{"s":25,"t":58.45,"v":-0.8},{"s":25,"t":58.65,"v":4.0},{"s":25,"t":58.9,"v":8.2},{"s":25,"t":59.3,"v":10.9},{"s":25,"t":59.8,"v":12.8},{"s":25,"t":60.4,"v":14.5},{"s":25,"t":61,"v":15.5},{"s":25,"t":61.62,"v":16.4},
{"s":26,"t":50.95,"v":17.5},{"s":26,"t":51.5,"v":18.3},{"s":26,"t":52,"v":18.9},{"s":26,"t":52.5,"v":19.5},{"s":26,"t":52.97,"v":20.0},{"s":26,"t":53.15,"v":18.0},{"s":26,"t":53.35,"v":15.0},{"s":26,"t":53.55,"v":13.8},{"s":26,"t":53.75,"v":11.5},{"s":26,"t":53.95,"v":10.0},{"s":26,"t":54.15,"v":8.5},{"s":26,"t":54.35,"v":13.0},{"s":26,"t":54.6,"v":15.5},{"s":26,"t":54.95,"v":17.0},{"s":26,"t":55.4,"v":18.0},{"s":26,"t":56,"v":18.8},{"s":26,"t":56.6,"v":19.3},{"s":26,"t":57.3,"v":19.8},{"s":26,"t":57.45,"v":17.8},{"s":26,"t":57.65,"v":15.5},{"s":26,"t":57.85,"v":13.0},{"s":26,"t":58.05,"v":11.0},{"s":26,"t":58.25,"v":9.5},{"s":26,"t":58.45,"v":8.0},{"s":26,"t":58.65,"v":12.0},{"s":26,"t":58.9,"v":14.6},{"s":26,"t":59.3,"v":16.2},{"s":26,"t":59.8,"v":17.3},{"s":26,"t":60.4,"v":18.3},{"s":26,"t":61,"v":18.9},{"s":26,"t":61.62,"v":19.4}
 ]
},
"hconcat": [
 {
  "width": 446, "height": 352,
  "title": {"text": "Temperature Matrix [°C]"},
  "layer": [
   {
    "data": {"name": "matrix"},
    "mark": {"type": "line", "strokeWidth": 1, "clip": true},
    "encoding": {
     "x": {"field": "t", "type": "quantitative", "scale": {"domain": [50.93, 61.69], "nice": false, "zero": false},
       "axis": {"values": [51,52,53,54,55,56,57,58,59,60,61], "labelExpr": "datum.value === 55 ? '11:55' : (datum.value === 60 ? '12:00' : '')", "title": "Time [HH:MM]", "titlePadding": 6,
         "gridColor": {"condition": {"test": "datum.value === 55 || datum.value === 60", "value": "#c4c4c4"}, "value": "#dcdcdc"},
         "tickOpacity": {"condition": {"test": "datum.value === 55 || datum.value === 60", "value": 1}, "value": 0}}},
     "y": {"field": "v", "type": "quantitative", "scale": {"domain": [-5, 25], "nice": false, "zero": false},
       "axis": {"values": [-5,-4,-3,-2,-1,0,1,2,3,4,5,6,7,8,9,10,11,12,13,14,15,16,17,18,19,20,21,22,23,24,25], "labelExpr": "datum.value % 5 === 0 ? datum.label : ''", "title": "Temperature [°C]", "titlePadding": 6,
         "gridColor": {"condition": {"test": "datum.value % 5 === 0", "value": "#c4c4c4"}, "value": "#dcdcdc"},
         "tickOpacity": {"condition": {"test": "datum.value % 5 === 0", "value": 1}, "value": 0}}},
     "color": {"field": "s", "type": "nominal", "legend": null,
       "scale": {"domain": [1,2,3,4,5,6,7,8,9,10,11,12,13,14,15,16,17,18,19,20,21,22,23,24,25,26],
         "range": ["#0072BD","#D95319","#EDB120","#7E2F8E","#77AC30","#4DBEEE","#A2142F","#0072BD","#D95319","#EDB120","#7E2F8E","#77AC30","#4DBEEE","#A2142F","#0072BD","#D95319","#EDB120","#7E2F8E","#77AC30","#4DBEEE","#A2142F","#0072BD","#D95319","#EDB120","#7E2F8E","#77AC30"]}}
    }
   },
   {
    "data": {"name": "door"},
    "mark": {"type": "line", "strokeWidth": 2.5, "color": "#0000FF"},
    "encoding": {
     "x": {"field": "t", "type": "quantitative"},
     "y": {"field": "d", "type": "quantitative", "scale": {"domain": [0, 1.1], "nice": false, "zero": false},
       "axis": {"orient": "right", "values": [0,0.2,0.4,0.6,0.8,1], "format": "~g", "grid": false, "title": "Door Open [m]", "titleAngle": 270, "titleBaseline": "top", "titlePadding": 10,
         "labelColor": "#77AC30", "titleColor": "#77AC30", "domainColor": "#77AC30", "tickColor": "#77AC30"}}
    }
   }
  ],
  "resolve": {"scale": {"y": "independent"}}
 },
 {
  "width": 441, "height": 352,
  "title": {"text": "Mean Temperature [°C]"},
  "layer": [
   {
    "data": {"name": "mean"},
    "mark": {"type": "line", "strokeWidth": 1.8},
    "encoding": {
     "x": {"field": "t", "type": "quantitative", "scale": {"domain": [50.93, 61.69], "nice": false, "zero": false},
       "axis": {"values": [51,52,53,54,55,56,57,58,59,60,61], "labelExpr": "datum.value === 55 ? '11:55' : (datum.value === 60 ? '12:00' : '')", "title": "Time [HH:MM]", "titlePadding": 6,
         "gridColor": {"condition": {"test": "datum.value === 55 || datum.value === 60", "value": "#c4c4c4"}, "value": "#dcdcdc"},
         "tickOpacity": {"condition": {"test": "datum.value === 55 || datum.value === 60", "value": 1}, "value": 0}}},
     "y": {"field": "v", "type": "quantitative", "scale": {"domain": [-10, 35], "nice": false, "zero": false},
       "axis": {"values": [-10,-9,-8,-7,-6,-5,-4,-3,-2,-1,0,1,2,3,4,5,6,7,8,9,10,11,12,13,14,15,16,17,18,19,20,21,22,23,24,25,26,27,28,29,30,31,32,33,34,35], "labelExpr": "datum.value % 5 === 0 ? datum.label : ''", "title": "Temperature [°C]", "titlePadding": 6,
         "gridColor": {"condition": {"test": "datum.value % 5 === 0", "value": "#c4c4c4"}, "value": "#dcdcdc"},
         "tickOpacity": {"condition": {"test": "datum.value % 5 === 0", "value": 1}, "value": 0}}},
     "color": {"field": "k", "type": "nominal",
       "scale": {"domain": ["Hot Side","Hot Ref","Matrix","Cold Site","Cold Ref","Door Cycle"], "range": ["#0072BD","#D95319","#EDB120","#7E2F8E","#77AC30","#0000FF"]},
       "legend": {"orient": "top-left", "title": null, "offset": 11, "padding": 5, "fillColor": "white", "strokeColor": "#333333",
         "symbolType": "M-4.2,0H4.2", "symbolSize": 100, "symbolStrokeWidth": 2, "symbolOffset": 15, "labelOffset": 19,
         "labelFontSize": 12, "labelColor": "#000000", "rowPadding": 6.5}}
    }
   },
   {
    "data": {"name": "door"},
    "mark": {"type": "line", "strokeWidth": 2.5},
    "encoding": {
     "x": {"field": "t", "type": "quantitative"},
     "y": {"field": "d", "type": "quantitative", "scale": {"domain": [0, 1.1], "nice": false, "zero": false},
       "axis": {"orient": "right", "values": [0,0.2,0.4,0.6,0.8,1], "format": "~g", "grid": false, "title": "Door Open [m]", "titleAngle": 270, "titleBaseline": "top", "titlePadding": 12,
         "labelColor": "#4DBEEE", "titleColor": "#4DBEEE", "domainColor": "#4DBEEE", "tickColor": "#4DBEEE"}},
     "color": {"field": "k", "type": "nominal"}
    }
   }
  ],
  "resolve": {"scale": {"y": "independent"}}
 }
]
}
